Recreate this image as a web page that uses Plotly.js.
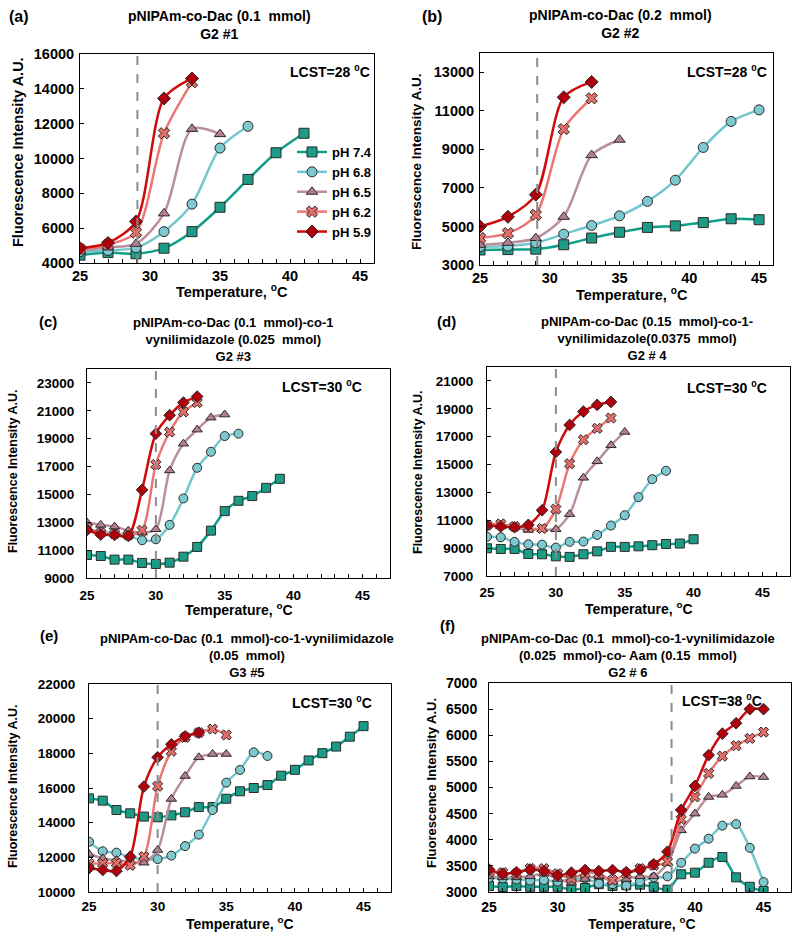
<!DOCTYPE html>
<html>
<head>
<meta charset="utf-8">
<script src="https://cdn.plot.ly/plotly-3.0.1.min.js"></script>
<style>
  body { margin: 0; background: #fff; }
  #plotField { width: 799px; height: 939px; }
</style>
</head>
<body>
<div id="plotField"></div>
<script>
// temperatures (oC)
const tempStep2 = [25, 27, 29, 31, 33, 35, 37, 39, 41, 43, 45];
const tempStep1 = [25, 26, 27, 28, 29, 30, 31, 32, 33, 34, 35, 36, 37, 38, 39, 40, 41, 42, 43, 44, 45];

const phLabels = ['pH 7.4', 'pH 6.8', 'pH 6.5', 'pH 6.2', 'pH 5.9'];

// (a) G2 #1
const a74 = [4450, 4600, 4530, 4850, 5800, 7200, 8800, 10330, 11450];
const a68 = [4650, 4720, 4880, 5800, 7380, 10600, 11850];
const a65 = [4700, 4900, 5100, 6850, 11700, 11400];
const a62 = [4800, 5050, 5750, 11450, 14380];
const a59 = [4850, 5150, 6380, 13450, 14600];

// (b) G2 #2
const b74 = [3780, 3800, 3820, 4050, 4400, 4700, 4950, 5030, 5200, 5400, 5350];
const b68 = [3950, 3980, 4150, 4600, 5050, 5550, 6300, 7400, 9100, 10450, 11050];
const b65 = [4050, 4150, 4400, 5500, 8700, 9500];
const b62 = [4400, 4650, 5600, 10050, 11650];
const b59 = [5000, 5500, 6650, 11700, 12500];

// (c) G2 #3
const c74 = [10650, 10580, 10320, 10320, 10080, 10010, 10100, 10530, 11230, 12400, 13800, 14540, 14880, 15470, 16120];
const c68 = [12500, 12300, 12200, 12050, 11710, 11780, 12810, 14710, 16910, 18060, 19190, 19360];
const c65 = [12980, 12810, 12690, 12400, 12250, 12500, 16720, 18640, 19650, 20510, 20730];
const c62 = [12600, 12240, 12170, 12070, 12430, 17150, 19480, 20920, 21590];
const c59 = [12450, 12120, 12090, 12020, 15330, 19360, 20680, 21590, 22020];

// (d) G2 # 4
const d74 = [8990, 8940, 8940, 8580, 8560, 8410, 8370, 8560, 8770, 9090, 9090, 9130, 9210, 9300, 9330, 9640];
const d68 = [9810, 9780, 9450, 9280, 9250, 9040, 9450, 9470, 9950, 10620, 11360, 12660, 13950, 14550];
const d65 = [10600, 10550, 10500, 10310, 10360, 10360, 11440, 14050, 15230, 16380, 17340];
const d62 = [10650, 10740, 10550, 10450, 10410, 11800, 15060, 16780, 17600, 18340];
const d59 = [10620, 10550, 10500, 10670, 11720, 15900, 17840, 18800, 19280, 19490];

// (e) G3 #5
const e74 = [15400, 15270, 14730, 14540, 14350, 14310, 14420, 14600, 14900, 14900, 15380, 15810, 16000, 16170, 16710, 17050, 17590, 18010, 18390, 18960, 19570];
const e68 = [12900, 12350, 12270, 12000, 11880, 11900, 12100, 12650, 13310, 14730, 16310, 17040, 18060, 17850];
const e65 = [12190, 11940, 11830, 11750, 11690, 12420, 15370, 16690, 17770, 17960, 17960];
const e62 = [11650, 11650, 11670, 11540, 12040, 16100, 18120, 18920, 19190, 19400, 19060];
const e59 = [11370, 11270, 11210, 12040, 16080, 17770, 18520, 18980, 19190];

// (f) G2 # 6
const f74 = [3115, 3096, 3115, 3100, 3100, 3100, 3045, 3077, 3150, 3115, 3130, 3140, 3100, 3045, 3340, 3370, 3560, 3670, 3280, 3100, 3020];
const f68 = [3270, 3260, 3240, 3220, 3230, 3200, 3240, 3260, 3160, 3150, 3120, 3200, 3280, 3300, 3560, 3830, 4020, 4270, 4300, 3845, 3190];
const f65 = [3300, 3280, 3280, 3300, 3350, 3250, 3180, 3250, 3300, 3200, 3250, 3300, 3300, 3550, 4180, 4500, 4820, 4860, 5030, 5210, 5200];
const f62 = [3380, 3370, 3350, 3450, 3450, 3350, 3260, 3360, 3350, 3225, 3350, 3450, 3510, 3580, 4390, 4820, 5270, 5600, 5800, 5940, 6060];
const f59 = [3430, 3350, 3380, 3430, 3400, 3320, 3370, 3420, 3400, 3420, 3380, 3430, 3530, 3770, 4570, 5030, 5620, 6030, 6230, 6500, 6500];

// styles per pH
const styles = [
    {line: '#0f9e88', fill: '#1c9c86', symbol: 'square'},
    {line: '#72c6cd', fill: '#7ec8d0', symbol: 'circle'},
    {line: '#bb8e9b', fill: '#b4808f', symbol: 'triangle-up'},
    {line: '#ea7773', fill: '#e26e6a', symbol: 'x'},
    {line: '#d00a0a', fill: '#b0000c', symbol: 'diamond'}
];

const W = 799, H = 939;
const FONT = 'Liberation Sans, Arial, sans-serif';

// panel boxes in pixels: x0, x1, yTop, yBottom
const panels = [
    {key: '', box: [80, 374, 54, 263], xmax: 46, yr: [4000, 16000], dy: 2000, temps: tempStep2, series: [a74, a68, a65, a62, a59], lcst: 29.1, fs: 14.5, ysd: 2, xsd: 0},
    {key: '2', box: [480, 773, 53, 265], xmax: 46, yr: [3000, 14000], dy: 2000, temps: tempStep2, series: [b74, b68, b65, b62, b59], lcst: 29.1, fs: 14.5, ysd: 2, xsd: 0},
    {key: '3', box: [87, 390, 369, 578], xmax: 47, yr: [9000, 24000], dy: 2000, temps: tempStep1, series: [c74, c68, c65, c62, c59], lcst: 30, fs: 13.5, ysd: 9, xsd: 5},
    {key: '4', box: [487, 790, 367, 576], xmax: 47, yr: [7000, 22000], dy: 2000, temps: tempStep1, series: [d74, d68, d65, d62, d59], lcst: 30, fs: 13.5, ysd: 10, xsd: 4},
    {key: '5', box: [89, 391, 684, 892], xmax: 47, yr: [10000, 22000], dy: 2000, temps: tempStep1, series: [e74, e68, e65, e62, e59], lcst: 30, fs: 13.5, ysd: 10, xsd: 2},
    {key: '6', box: [489, 791, 683, 892], xmax: 47, yr: [3000, 7000], dy: 500, temps: tempStep1, series: [f74, f68, f65, f62, f59], lcst: 38.3, fs: 14, ysd: 8, xsd: 2}
];

var data = [];
var layout = {
    width: W, height: H,
    margin: {l: 0, r: 0, t: 0, b: 0},
    paper_bgcolor: '#fff', plot_bgcolor: '#fff',
    font: {family: FONT, color: '#000'},
    showlegend: true,
    legend: {
        x: 292 / W, y: 1 - 137 / H, xanchor: 'left', yanchor: 'top',
        bgcolor: 'rgba(0,0,0,0)', borderwidth: 0,
        font: {family: FONT, size: 13, weight: 'bold', color: '#000'},
        tracegroupgap: 0
    },
    shapes: [],
    annotations: []
};

panels.forEach(function(p, pi) {
    let xa = 'x' + p.key, ya = 'y' + p.key;
    let [x0, x1, yt, yb] = p.box;
    layout['xaxis' + p.key] = {
        domain: [x0 / W, x1 / W], anchor: ya,
        range: [25, p.xmax], tick0: 25, dtick: 5,
        ticks: 'inside', ticklen: 4, tickcolor: '#000',
        minor: {dtick: 1, ticks: 'inside', ticklen: 4, tickcolor: '#000'},
        ticklabelstandoff: p.xsd,
        showline: true, mirror: true, linecolor: '#000', linewidth: 1,
        showgrid: false, zeroline: false,
        tickfont: {family: FONT, size: p.fs, weight: 'bold', color: '#000'}
    };
    layout['yaxis' + p.key] = {
        domain: [1 - yb / H, 1 - yt / H], anchor: xa,
        range: p.yr, tick0: p.yr[0], dtick: p.dy, tickformat: 'd',
        ticks: 'inside', ticklen: 4, tickcolor: '#000',
        ticklabelstandoff: p.ysd,
        showline: true, mirror: true, linecolor: '#000', linewidth: 1,
        showgrid: false, zeroline: false,
        tickfont: {family: FONT, size: p.fs, weight: 'bold', color: '#000'}
    };
    // LCST dashed line
    layout.shapes.push({
        type: 'line', xref: xa, yref: ya + ' domain',
        x0: p.lcst, x1: p.lcst, y0: 0, y1: 1,
        line: {color: '#8c8c8c', width: 2, dash: 'dash'}
    });
    p.series.forEach(function(vals, si) {
        let st = styles[si];
        data.push({
            x: p.temps.slice(0, vals.length), y: vals,
            xaxis: xa, yaxis: ya,
            type: 'scatter', mode: 'lines+markers',
            name: phLabels[si],
            showlegend: pi === 0,
            line: {color: st.line, width: 2.5, shape: 'spline', smoothing: 0.8},
            marker: {
                symbol: st.symbol, size: pi < 2 ? 10 : 9, color: st.fill,
                line: {color: '#2a2a2a', width: 1}
            }
        });
    });
});

// text: [text, xpx, ypx, size, anchor, angle]
const texts = [
    ['(a)', 7, 17, 16, 'left'],
    ['pNIPAm-co-Dac (0.1\u00a0 mmol)<br>G2 #1', 219, 25, 14, 'center'],
    ['LCST=28 <sup>0</sup>C', 330, 71, 14, 'center'],
    ['(b)', 420, 16, 16, 'left'],
    ['pNIPAm-co-Dac (0.2\u00a0 mmol)<br>G2 #2', 620, 24, 14, 'center'],
    ['LCST=28 <sup>0</sup>C', 727, 71, 14, 'center'],
    ['(c)', 37, 322, 15, 'left'],
    ['pNIPAm-co-Dac (0.1\u00a0 mmol)-co-1<br>vynilimidazole (0.025\u00a0 mmol)<br>G2 #3', 233, 340, 13, 'center'],
    ['LCST=30 <sup>0</sup>C', 322, 386, 14, 'center'],
    ['(d)', 435, 322, 15, 'left'],
    ['pNIPAm-co-Dac (0.15\u00a0 mmol)-co-1-<br>vynilimidazole(0.0375\u00a0 mmol)<br>G2 # 4', 647, 338, 13, 'center'],
    ['LCST=30 <sup>0</sup>C', 727, 387, 14, 'center'],
    ['(e)', 38, 635, 15, 'left'],
    ['pNIPAm-co-Dac (0.1\u00a0 mmol)-co-1-vynilimidazole<br>(0.05\u00a0 mmol)<br>G3 #5', 247, 655, 13, 'center'],
    ['LCST=30 <sup>0</sup>C', 332, 702, 14, 'center'],
    ['(f)', 438, 625, 15, 'left'],
    ['pNIPAm-co-Dac (0.1\u00a0 mmol)-co-1-vynilimidazole<br>(0.025\u00a0 mmol)-co- Aam (0.15\u00a0 mmol)<br>G2 # 6', 628, 655, 13, 'center'],
    ['LCST=38 <sup>0</sup>C', 722, 700, 14, 'center'],
    // x titles
    ['Temperature, <sup>o</sup>C', 232, 291, 14.5, 'center'],
    ['Temperature, <sup>o</sup>C', 632, 294, 14.5, 'center'],
    ['Temperature, <sup>o</sup>C', 239, 609, 14, 'center'],
    ['Temperature, <sup>o</sup>C', 639, 608, 14, 'center'],
    ['Temperature, <sup>o</sup>C', 240, 923, 14, 'center'],
    ['Temperature, <sup>o</sup>C', 642, 923, 14, 'center'],
    // y titles
    ['Fluorescence Intensity A.U.', 18, 152, 14.5, 'center', -90],
    ['Fluorescence Intensity A.U.', 416, 162, 13.5, 'center', -90],
    ['Fluorescence Intensity A.U.', 13, 472, 12.5, 'center', -90],
    ['Fluorescence Intensity A.U.', 418, 473, 12.5, 'center', -90],
    ['Fluorescence Intensity A.U.', 13, 787, 12.5, 'center', -90],
    ['Fluorescence Intensity A.U.', 431, 783, 13, 'center', -90]
];

texts.forEach(function(t) {
    layout.annotations.push({
        text: t[0], xref: 'paper', yref: 'paper',
        x: t[1] / W, y: 1 - t[2] / H,
        xanchor: t[4], yanchor: 'middle',
        textangle: t[5] || 0,
        showarrow: false,
        font: {family: FONT, size: t[3], weight: 'bold', color: '#000'}
    });
});

var config = {staticPlot: true};
Plotly.newPlot('plotField', data, layout, config);
</script>
</body>
</html>
